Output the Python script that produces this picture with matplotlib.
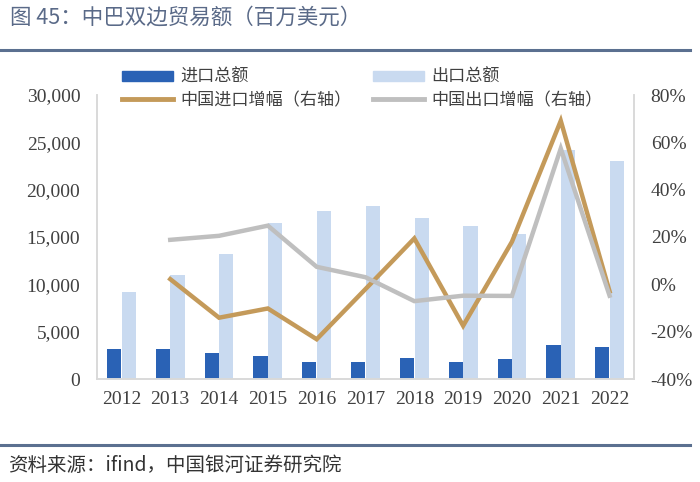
import matplotlib
matplotlib.use("Agg")
import matplotlib.pyplot as plt
import numpy as np
from matplotlib.lines import Line2D

plt.rcParams['font.family'] = ['Noto Sans CJK SC', 'DejaVu Sans']

years = ["2012", "2013", "2014", "2015", "2016", "2017", "2018", "2019", "2020", "2021", "2022"]
imports_total = [3140, 3170, 2710, 2400, 1830, 1760, 2180, 1760, 2080, 3560, 3420]
exports_total = [9220, 10990, 13240, 16440, 17710, 18310, 16970, 16160, 15350, 24190, 23030]
import_growth = [np.nan, 2.2, -14.1, -10.2, -23.2, -2.0, 19.4, -17.5, 18.0, 69.1, -3.0]
export_growth = [np.nan, 18.8, 20.5, 24.8, 7.4, 3.0, -7.1, -4.8, -4.9, 57.4, -4.8]

left_ticks = [0, 5000, 10000, 15000, 20000, 25000, 30000]
right_ticks = [-40, -20, 0, 20, 40, 60, 80]

c_dark = "#2a62b5"
c_light = "#c9daf0"
c_gold = "#c49a5a"
c_gray = "#bfbfbf"
c_text = "#404040"
c_spine = "#d9d9d9"

fig = plt.figure(figsize=(7, 4.82), dpi=100)
ax = fig.add_axes([97/700, 1-379/482, (634-97)/700, (379-95)/482])
ax2 = ax.twinx()
ax.set_zorder(1)
ax2.set_zorder(2)
ax.patch.set_visible(False)

x = np.arange(len(years))
w = 0.29
ax.bar(x - 0.15, imports_total, width=w, color=c_dark, label="进口总额")
ax.bar(x + 0.15, exports_total, width=w, color=c_light, label="出口总额")
ax.set_ylim(0, 30000)
ax.set_xlim(-0.5, len(years) - 0.5)
ax.set_yticks(left_ticks)
ax.set_yticklabels([f"{v:,}" for v in left_ticks], family="Liberation Serif", fontsize=14, color=c_text)
ax.set_xticks(x)
ax.set_xticklabels(years, family="Liberation Serif", fontsize=14, color=c_text)
ax.tick_params(axis='x', length=0, pad=9)
ax.tick_params(axis='y', length=0, pad=12)

ax2.plot(x, import_growth, color=c_gold, lw=3.2, solid_joinstyle='miter')
ax2.plot(x, export_growth, color=c_gray, lw=3.2, solid_joinstyle='miter')
ax2.set_ylim(-40, 80)
ax2.set_yticks(right_ticks)
ax2.set_yticklabels([f"{v}%" for v in right_ticks], family="Liberation Serif", fontsize=14, color=c_text)
ax2.tick_params(length=0, pad=12)

for a in (ax, ax2):
    for s in a.spines.values():
        s.set_color(c_spine)
        s.set_linewidth(1.2)
    a.spines['top'].set_visible(False)

handles = [
    plt.Rectangle((0, 0), 1, 1, color=c_dark),
    Line2D([0], [0], color=c_gold, lw=3.5),
    plt.Rectangle((0, 0), 1, 1, color=c_light),
    Line2D([0], [0], color=c_gray, lw=3.5),
]
labels = ["进口总额", "中国进口增幅（右轴）", "出口总额", "中国出口增幅（右轴）"]
fig.legend(handles, labels, loc="upper left", bbox_to_anchor=(115/700, 1-61/482),
           ncol=2, frameon=False, fontsize=12.3, handlelength=3.0, handleheight=0.55,
           handletextpad=0.45, columnspacing=1.2, labelspacing=0.3, borderaxespad=0,
           labelcolor=c_text)

fig.text(10/700, 1-18/482, "图 45：中巴双边贸易额（百万美元）", fontsize=15.5, color="#5a6a88",
         va="center", ha="left")
fig.add_artist(Line2D([0, 690/700], [1-50/482, 1-50/482], color="#5b7090", lw=2.2))
fig.add_artist(Line2D([0, 690/700], [1-445/482, 1-445/482], color="#5b7090", lw=2.2))
fig.text(8/700, 1-465/482, "资料来源：ifind，中国银河证券研究院", fontsize=14, color="#333333",
         va="center", ha="left")

fig.savefig("out.png", dpi=100)
